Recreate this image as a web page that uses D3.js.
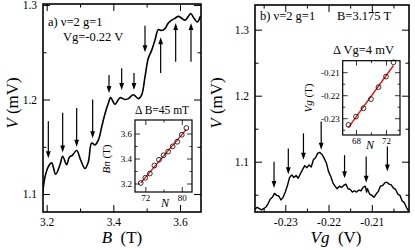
<!DOCTYPE html>
<html>
<head>
<meta charset="utf-8">
<script src="https://cdn.jsdelivr.net/npm/d3@7"></script>
<style>
	body { margin: 0; background: #fff; }
	text { font-family: 'Liberation Serif', 'Times New Roman', serif; }
</style>
</head>
<body>
<script>
const width = 415
const height = 250
const serif = "'Liberation Serif', 'Times New Roman', serif"

// panel a: V vs B
const fieldB = [3.188, 3.195, 3.205, 3.215, 3.227, 3.240, 3.248, 3.260, 3.268, 3.277, 3.290, 3.302, 3.315, 3.325, 3.335, 3.345, 3.355, 3.365, 3.375, 3.385, 3.392, 3.405, 3.420, 3.435, 3.445, 3.460, 3.475, 3.485, 3.495, 3.505, 3.515, 3.525, 3.535, 3.545, 3.555, 3.565, 3.575, 3.585, 3.595, 3.605, 3.615, 3.625, 3.632, 3.642, 3.652, 3.661]
const voltageA = [1.101, 1.118, 1.129, 1.133, 1.121, 1.131, 1.140, 1.131, 1.139, 1.141, 1.146, 1.136, 1.127, 1.134, 1.154, 1.152, 1.157, 1.171, 1.185, 1.196, 1.202, 1.195, 1.202, 1.200, 1.201, 1.205, 1.201, 1.205, 1.224, 1.244, 1.252, 1.263, 1.274, 1.273, 1.275, 1.281, 1.284, 1.286, 1.288, 1.286, 1.284, 1.288, 1.291, 1.286, 1.282, 1.288]
const arrowsAB = [3.205, 3.248, 3.290, 3.338, 3.387, 3.425, 3.462, 3.495, 3.542, 3.587, 3.633]
const arrowsATip = [1.138, 1.144, 1.150, 1.159, 1.207, 1.210, 1.210, 1.250, 1.266, 1.281, 1.281]
const arrowsATail = [1.177, 1.186, 1.191, 1.200, 1.226, 1.233, 1.228, 1.278, 1.228, 1.240, 1.240]

// inset a: Bn vs N
const insetAN = [71, 72, 73, 74, 75, 76, 77, 78, 79, 80, 81]
const insetABn = [3.204, 3.246, 3.280, 3.344, 3.390, 3.426, 3.455, 3.497, 3.534, 3.590, 3.644]

// panel b: V vs Vg
const gateVg = [-0.2370, -0.2365, -0.2360, -0.2355, -0.2350, -0.2345, -0.2340, -0.2335, -0.2330, -0.2325, -0.2320, -0.2315, -0.2310, -0.2305, -0.2300, -0.2295, -0.2290, -0.2285, -0.2280, -0.2275, -0.2270, -0.2265, -0.2260, -0.2255, -0.2250, -0.2245, -0.2240, -0.2235, -0.2230, -0.2225, -0.2220, -0.2215, -0.2210, -0.2205, -0.2200, -0.2195, -0.2190, -0.2185, -0.2180, -0.2175, -0.2170, -0.2165, -0.2160, -0.2155, -0.2150, -0.2145, -0.2140, -0.2135, -0.2130, -0.2125, -0.2120, -0.2115, -0.2112, -0.2110, -0.2105, -0.2100, -0.2095, -0.2090, -0.2085, -0.2080, -0.2075, -0.2070, -0.2065, -0.2060, -0.2055, -0.2050, -0.2045, -0.2040, -0.2035, -0.2030, -0.2025, -0.2020, -0.2014]
const voltageB = [1.028, 1.031, 1.029, 1.027, 1.029, 1.031, 1.036, 1.043, 1.046, 1.052, 1.049, 1.048, 1.042, 1.046, 1.054, 1.064, 1.076, 1.080, 1.076, 1.079, 1.075, 1.082, 1.088, 1.094, 1.091, 1.095, 1.092, 1.103, 1.106, 1.113, 1.114, 1.111, 1.105, 1.098, 1.085, 1.078, 1.068, 1.063, 1.059, 1.063, 1.061, 1.064, 1.066, 1.059, 1.058, 1.054, 1.056, 1.054, 1.057, 1.056, 1.061, 1.063, 1.054, 1.059, 1.051, 1.049, 1.046, 1.051, 1.055, 1.063, 1.064, 1.068, 1.069, 1.066, 1.065, 1.060, 1.058, 1.051, 1.049, 1.041, 1.038, 1.031, 1.024]
const arrowsBVg = [-0.2326, -0.2293, -0.2258, -0.2217, -0.2163, -0.2113, -0.2064]
const arrowsBTip = [1.060, 1.081, 1.103, 1.118, 1.075, 1.068, 1.085]
const arrowsBTail = [1.100, 1.120, 1.143, 1.161, 1.110, 1.108, 1.123]

// inset b: Vg vs N
const insetBN = [67, 68, 69, 70, 71, 72, 73]
const insetBVg = [-0.2329, -0.2293, -0.2257, -0.2217, -0.2165, -0.2119, -0.2057]

// ticks
const ticksA = { xMajor: [3.2, 3.4, 3.6], xMinor: [3.3, 3.5], yMajor: [1.1, 1.2, 1.3], yMinor: [1.15, 1.25] }
const ticksB = { xMajor: [-0.23, -0.22, -0.21], xMinor: [-0.235, -0.225, -0.215, -0.205], yMajor: [1.1, 1.2, 1.3], yMinor: [1.05, 1.15, 1.25] }
const ticksIA = { xMajor: [72, 80], xMinor: [76], yMajor: [3.2, 3.4, 3.6], yMinor: [3.3, 3.5] }
const ticksIB = { xMajor: [68, 72], xMinor: [70], yMajor: [-0.23, -0.22, -0.21], yMinor: [-0.235, -0.225, -0.215] }

const svg = d3.select('body')
	.append('svg')
	.attr('width', width)
	.attr('height', height)

const xA = d3.scaleLinear().domain([3.189, 3.663]).range([43, 201])
const yA = d3.scaleLinear().domain([1.081, 1.3011]).range([212, 4])
const xB = d3.scaleLinear().domain([-0.2370, -0.2014]).range([255, 409])
const yB = d3.scaleLinear().domain([1.0238, 1.3374]).range([212, 5])
const xIA = d3.scaleLinear().domain([69.74, 82.24]).range([135, 192])
const yIA = d3.scaleLinear().domain([3.132, 3.708]).range([192, 120])
const xIB = d3.scaleLinear().domain([66.23, 73.87]).range([342.7, 400])
const yIB = d3.scaleLinear().domain([-0.2373, -0.2050]).range([135, 60.7])

// ticks inward on all four sides, labels on bottom and left
const addAxes = (x, y, t, o) => {
	const [x0, x1] = x.range()
	const [y0, y1] = y.range()
	const sides = [
		[d3.axisBottom, x, `translate(0,${y0})`, t.xMajor, t.xMinor, o.xFmt],
		[d3.axisTop, x, `translate(0,${y1})`, t.xMajor, t.xMinor, null],
		[d3.axisLeft, y, `translate(${x0},0)`, t.yMajor, t.yMinor, o.yFmt],
		[d3.axisRight, y, `translate(${x1},0)`, t.yMajor, t.yMinor, null]
	]
	sides.forEach(([make, scale, tr, major, minor, fmt]) => {
		svg.append('g')
			.attr('transform', tr)
			.call(make(scale).tickValues(minor).tickSize(-o.len / 2).tickFormat(''))
			.call(s => s.select('.domain').remove())
			.selectAll('line').attr('stroke-width', o.sw)
		const g = svg.append('g')
			.attr('transform', tr)
			.call(make(scale).tickValues(major).tickSize(-o.len).tickPadding(o.pad)
				.tickFormat(fmt ? fmt : ''))
		g.select('.domain').remove()
		g.selectAll('line').attr('stroke-width', o.sw)
		g.attr('font-family', serif).attr('font-size', o.fs)
	})
	svg.append('rect')
		.attr('x', x0).attr('y', y1)
		.attr('width', x1 - x0).attr('height', y0 - y1)
		.attr('fill', 'none')
		.attr('stroke', '#000')
		.attr('stroke-width', o.frame)
}

const addArrows = (x, y, pos, tip, tail) => {
	pos.forEach((p, i) => {
		const px = x(p)
		const pt = y(tip[i])
		const pl = y(tail[i])
		const dir = pt > pl ? 1 : -1
		svg.append('line')
			.attr('x1', px).attr('x2', px)
			.attr('y1', pl).attr('y2', pt - dir * 5)
			.attr('stroke', '#000')
			.attr('stroke-width', 1.2)
		svg.append('path')
			.attr('d', `M${px},${pt}L${px - 2.4},${pt - dir * 7}L${px + 2.4},${pt - dir * 7}Z`)
			.attr('fill', '#000')
	})
}

const fit = (xs, ys) => {
	const mx = d3.mean(xs)
	const my = d3.mean(ys)
	const slope = d3.sum(xs, (v, i) => (v - mx) * (ys[i] - my)) / d3.sum(xs, v => (v - mx) ** 2)
	return v => my + slope * (v - mx)
}

const addInset = (x, y, ns, vals) => {
	const f = fit(ns, vals)
	const n0 = d3.min(ns)
	const n1 = d3.max(ns)
	svg.append('line')
		.attr('x1', x(n0)).attr('y1', y(f(n0)))
		.attr('x2', x(n1)).attr('y2', y(f(n1)))
		.attr('stroke', '#e8100c')
		.attr('stroke-width', 1.4)
	svg.append('g')
		.selectAll('circle')
		.data(ns)
		.enter()
		.append('circle')
		.attr('cx', d => x(d))
		.attr('cy', (d, i) => y(vals[i]))
		.attr('r', 2.4)
		.attr('fill', 'none')
		.attr('stroke', '#000')
		.attr('stroke-width', 0.8)
}

// clip paths
const defs = svg.append('defs')
defs.append('clipPath').attr('id', 'clipA').append('rect')
	.attr('x', 43).attr('y', 4).attr('width', 158).attr('height', 208)
defs.append('clipPath').attr('id', 'clipB').append('rect')
	.attr('x', 255).attr('y', 5).attr('width', 154).attr('height', 207)

// panel a
svg.append('path')
	.attr('clip-path', 'url(#clipA)')
	.attr('d', d3.line().x(d => xA(d[0])).y(d => yA(d[1])).curve(d3.curveCatmullRom)(d3.zip(fieldB, voltageA)))
	.attr('fill', 'none')
	.attr('stroke', '#000')
	.attr('stroke-width', 1.6)

addArrows(xA, yA, arrowsAB, arrowsATip, arrowsATail)
addAxes(xA, yA, ticksA, { len: 7, pad: 6, fs: 11.5, sw: 1, frame: 1.6, xFmt: d => d.toFixed(1), yFmt: d => d.toFixed(1) })

svg.append('rect').attr('x', 135).attr('y', 120).attr('width', 57).attr('height', 72).attr('fill', '#fff')
addInset(xIA, yIA, insetAN, insetABn)
addAxes(xIA, yIA, ticksIA, { len: 5, pad: 3, fs: 9, sw: 0.8, frame: 1.2, xFmt: d => d, yFmt: d => d.toFixed(1) })

// panel b
svg.append('path')
	.attr('clip-path', 'url(#clipB)')
	.attr('d', d3.line().x(d => xB(d[0])).y(d => yB(d[1]))(d3.zip(gateVg, voltageB)))
	.attr('fill', 'none')
	.attr('stroke', '#000')
	.attr('stroke-width', 1.4)
	.attr('stroke-linejoin', 'round')

addArrows(xB, yB, arrowsBVg, arrowsBTip, arrowsBTail)
addAxes(xB, yB, ticksB, { len: 7, pad: 6, fs: 11.5, sw: 1, frame: 1.6, xFmt: d => d.toFixed(2), yFmt: d => d.toFixed(1) })

svg.append('rect').attr('x', 342.7).attr('y', 60.7).attr('width', 57.3).attr('height', 74.3).attr('fill', '#fff')
addInset(xIB, yIB, insetBN, insetBVg)
addAxes(xIB, yIB, ticksIB, { len: 5, pad: 3, fs: 9, sw: 0.8, frame: 1.2, xFmt: d => d, yFmt: d => d.toFixed(2) })

// labels
const label = (x, y, size, parts, rotate) => {
	const t = svg.append('text')
		.attr('font-size', size)
		.attr('font-family', serif)
		.attr('fill', '#000')
	if (rotate) {
		t.attr('transform', `translate(${x},${y}) rotate(-90)`).attr('text-anchor', 'middle')
	} else {
		t.attr('x', x).attr('y', y)
	}
	parts.forEach(([s, italic]) => {
		t.append('tspan').attr('font-style', italic ? 'italic' : null).text(s)
	})
	return t
}

label(48, 26, 12.5, [['a) ν=2 g=1']])
label(63, 41, 12.5, [['Vg=-0.22 V']])
label(135, 114, 11.5, [['Δ B=45 mT']])
label(18, 103, 17, [['V', true], [' (mV)']], true)
label(122, 243, 17, [['B', true], ['\u00a0\u00a0(T)']]).attr('text-anchor', 'middle')
label(110, 159, 11, [['Bn', true], [' (T)']], true)
label(161, 207, 12, [['N', true]])

label(260, 20, 12.5, [['b) ν=2 g=1']])
label(337, 20, 12.5, [['B=3.175 T']])
label(333, 54, 12.5, [['Δ Vg=4 mV']])
label(222, 103, 17, [['V', true], [' (mV)']], true)
label(336, 243, 17, [['Vg', true], ['\u00a0\u00a0(V)']]).attr('text-anchor', 'middle')
label(312, 98, 11, [['Vg', true], [' (T)']], true)
label(366, 149, 12, [['N', true]])
</script>
</body>
</html>
